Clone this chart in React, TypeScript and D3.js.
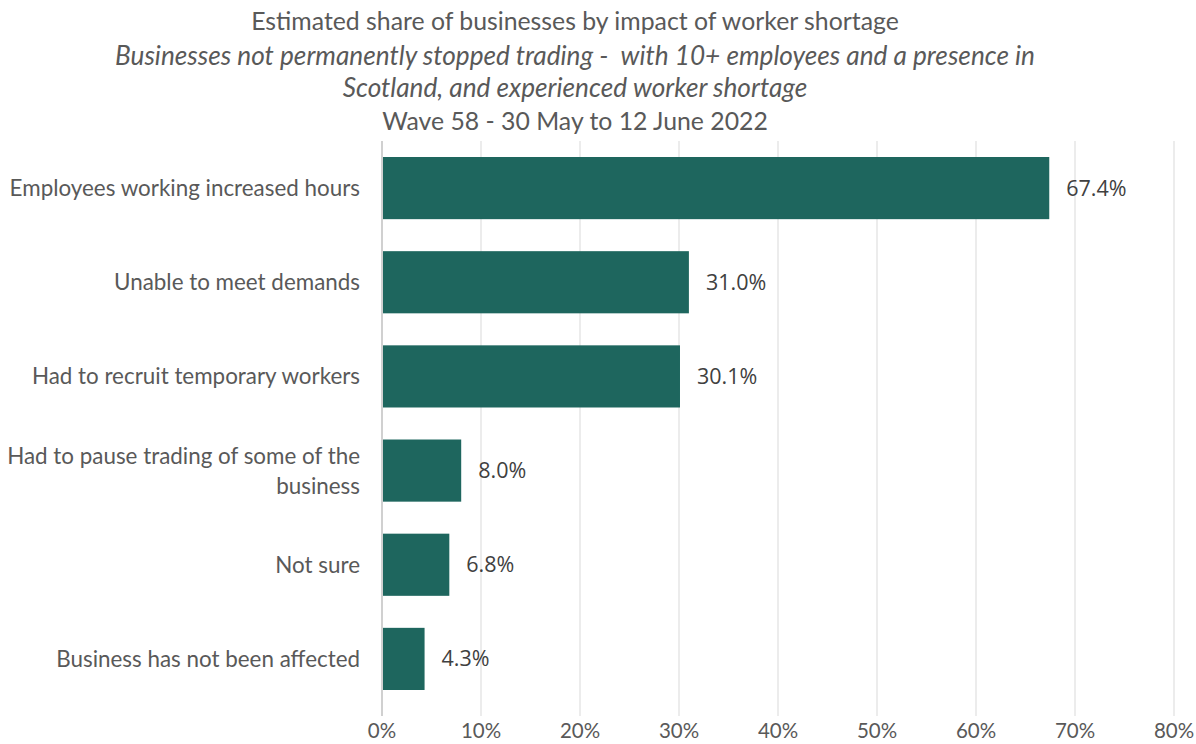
import React from "react";
import * as d3 from "d3";

const categories: string[][] = [
  ["Employees working increased hours"],
  ["Unable to meet demands"],
  ["Had to recruit temporary workers"],
  ["Had to pause trading of some of the", "business"],
  ["Not sure"],
  ["Business has not been affected"],
];
const values: number[] = [67.4, 31.0, 30.1, 8.0, 6.8, 4.3];
const ticks: number[] = [0, 10, 20, 30, 40, 50, 60, 70, 80];
const titleLines = [
  { text: "Estimated share of businesses by impact of worker shortage", italic: false },
  { text: "Businesses not permanently stopped trading -  with 10+ employees and a presence in", italic: true },
  { text: "Scotland, and experienced worker shortage", italic: true },
  { text: "Wave 58 - 30 May to 12 June 2022", italic: false },
];

const W = 1196;
const H = 744;
const FONT = "Lato, 'Noto Sans', sans-serif";

export default function App() {
  const x = d3.scaleLinear().domain([0, 80]).range([382, 1174]);
  const idx = categories.map((_, i) => String(i));
  const y = d3.scaleBand().domain(idx).range([141, 706]).paddingInner(0.34).paddingOuter(0.17);
  const titleY = [30, 65, 97, 130];
  return (
    <svg width={W} height={H} style={{ position: "absolute", left: 0, top: 0 }} fontFamily={FONT}>
      <rect width={W} height={H} fill="#fff" />
      {titleLines.map((t, i) => (
        <text key={i} x={575} y={titleY[i]} textAnchor="middle" fontSize={t.italic ? 26.2 : 24.8}
          fontStyle={t.italic ? "italic" : "normal"} fill="#595959" style={{ whiteSpace: "pre" }}>{t.text}</text>
      ))}
      {ticks.map((t) => (
        <g key={t}>
          {t > 0 && <line x1={x(t)} x2={x(t)} y1={141} y2={716} stroke="#e6e6e6" strokeWidth={1.5} />}
          <text x={x(t)} y={738} textAnchor="middle" fontSize={20.5} fill="#595959">{t}%</text>
        </g>
      ))}
      <line x1={x(0)} x2={x(0)} y1={141} y2={716} stroke="#d0d0d0" strokeWidth={2} />
      {values.map((v, i) => {
        const by = y(String(i))!;
        const bh = y.bandwidth();
        const cy = by + bh / 2;
        const lines = categories[i];
        return (
          <g key={i}>
            <rect x={x(0) + 1} y={by} width={x(v) - x(0) - 1} height={bh} fill="#1e665e" />
            <text x={x(v) + 17} y={cy + 7.5} fontSize={21.5} fill="#404040"
              fontFamily="'Open Sans', sans-serif">{v.toFixed(1)}%</text>
            {lines.map((l, j) => (
              <text key={j} x={360} y={cy + 8 + (j - (lines.length - 1) / 2) * 30}
                textAnchor="end" fontSize={22.4} fill="#595959">{l}</text>
            ))}
          </g>
        );
      })}
    </svg>
  );
}
